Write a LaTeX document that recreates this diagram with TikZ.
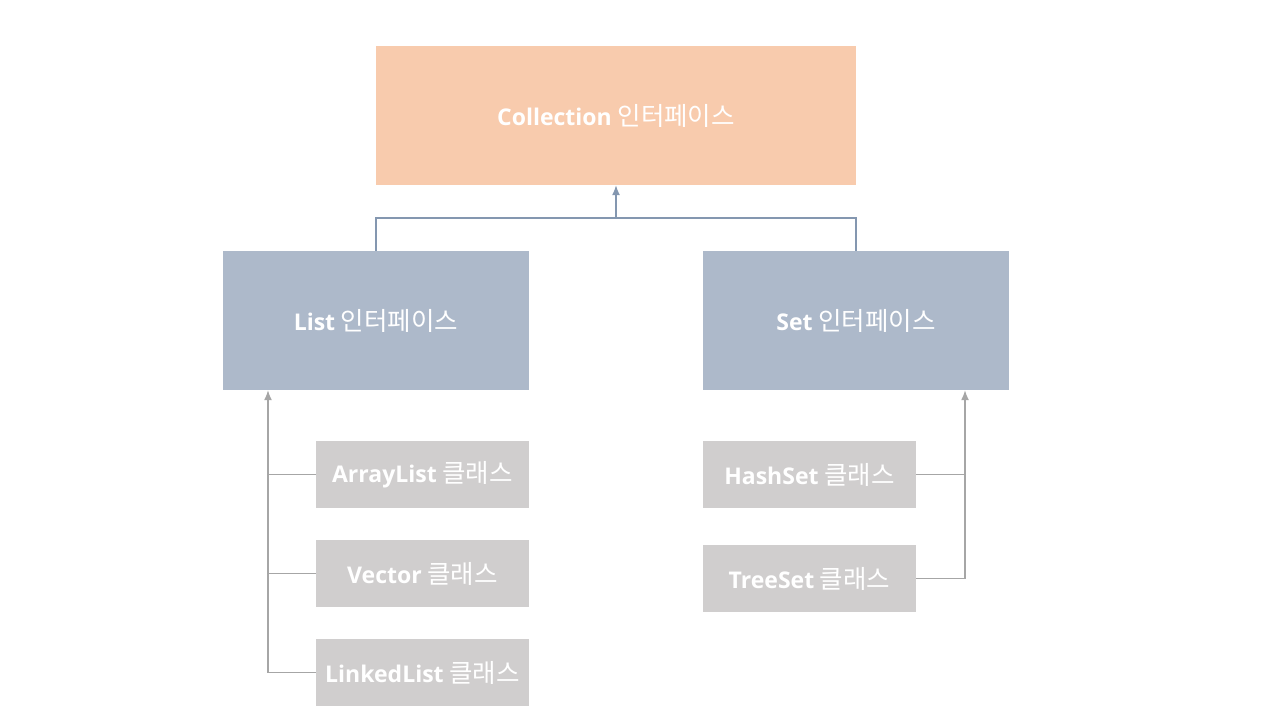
\documentclass[tikz,border=0pt]{standalone}
\usepackage{fontspec}
\setmainfont{Noto Sans CJK KR}
\newfontfamily\enbold{Open Sans}
\usepackage{tikz}
\usetikzlibrary{arrows.meta}

\definecolor{collfill}{HTML}{F8CBAD}
\definecolor{ifacefill}{HTML}{ADB9CA}
\definecolor{clsfill}{HTML}{D0CECE}
\definecolor{ifaceline}{HTML}{8497B0}
\definecolor{clsline}{HTML}{A6A6A6}

\newcommand{\en}[1]{{\enbold\bfseries\fontsize{23}{27}\selectfont #1}}

\tikzset{
	box/.style={fill=#1, text=white, inner sep=0pt, font=\fontsize{25.5}{30}\selectfont},
	iface/.style={box=ifacefill, minimum width=306pt, minimum height=139pt},
	cls/.style={box=clsfill, minimum width=213pt, minimum height=67pt},
	link/.style={line width=1.4pt, #1},
}

\begin{document}
\begin{tikzpicture}[x=1pt, y=-1pt]
		\useasboundingbox (0,0) rectangle (1280,720);
		
		\node[box=collfill, minimum width=480pt, minimum height=139pt] (coll) at (616,115.5) {\en{Collection} 인터페이스};
		\node[iface] (list) at (376,320.5) {\en{List} 인터페이스};
		\node[iface] (set) at (856,320.5) {\en{Set} 인터페이스};
		
		\node[cls] (arr) at (422.5,474.5) {\en{ArrayList} 클래스};
		\node[cls] (vec) at (422.5,573.5) {\en{Vector} 클래스};
		\node[cls] (lnk) at (422.5,672.5) {\en{LinkedList} 클래스};
		\node[cls] (hash) at (809.5,474.5) {\en{HashSet} 클래스};
		\node[cls] (tree) at (809.5,578.5) {\en{TreeSet} 클래스};
		
		\coordinate (j) at (616,218);
		\coordinate (lb) at (268,672.5);
		\coordinate (rb) at (965,578.5);
		
		\draw[link=ifaceline] (list.north) -- ++(0,-33) -| (set.north);
		\draw[->, >={Latex[length=10pt,width=8pt]}, link=ifaceline] (j) -- (coll.south);
		
		\draw[->, >={Latex[length=10pt,width=8pt]}, link=clsline] (lb) -- (lb |- list.south);
		\draw[link=clsline] (arr.west) -- (arr.west -| lb);
		\draw[link=clsline] (vec.west) -- (vec.west -| lb);
		\draw[link=clsline] (lnk.west) -- (lb);
		
		\draw[->, >={Latex[length=10pt,width=8pt]}, link=clsline] (tree.east) -| (set.south -| rb);
		\draw[link=clsline] (hash.east) -- (hash.east -| rb);
\end{tikzpicture}
\end{document}
